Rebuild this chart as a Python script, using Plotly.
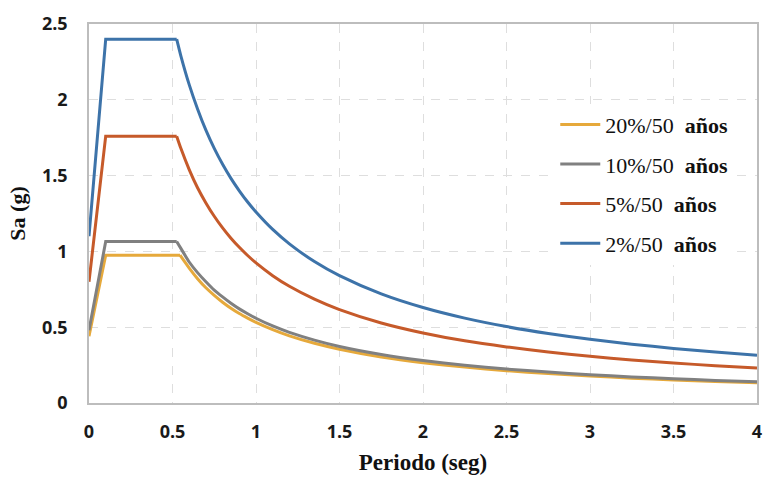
import plotly.graph_objects as go

# Rising branch and plateau: period (s) and Sa (g)
rise_t_20 = [0.0, 0.1, 0.545]
rise_t = [0.0, 0.1, 0.525]
rise_20 = [0.44, 0.975, 0.975]
rise_10 = [0.48, 1.065, 1.065]
rise_5 = [0.80, 1.76, 1.76]
rise_2 = [1.10, 2.40, 2.40]

# Descending branch: period (s) and Sa (g)
decay_t_20 = [0.545, 0.6, 0.65, 0.7, 0.75, 0.8, 0.85, 0.9, 0.95, 1.0, 1.1, 1.2,
              1.35, 1.5, 1.75, 2.0, 2.25, 2.5, 2.75, 3.0, 3.25, 3.5, 3.75, 4.0]
decay_t = [0.525, 0.55, 0.6, 0.65, 0.7, 0.75, 0.8, 0.85, 0.9, 0.95, 1.0, 1.1, 1.2,
           1.35, 1.5, 1.75, 2.0, 2.25, 2.5, 2.75, 3.0, 3.25, 3.5, 3.75, 4.0]
decay_20 = [0.975, 0.89, 0.82, 0.76, 0.71, 0.665, 0.625, 0.59, 0.56, 0.532, 0.484, 0.443,
            0.394, 0.355, 0.304, 0.266, 0.237, 0.213, 0.194, 0.178, 0.164, 0.152, 0.142, 0.133]
decay_10 = [1.065, 1.02, 0.93, 0.86, 0.80, 0.745, 0.70, 0.658, 0.621, 0.589, 0.559, 0.508, 0.466,
            0.415, 0.373, 0.32, 0.28, 0.249, 0.224, 0.204, 0.187, 0.172, 0.16, 0.149, 0.14]
decay_5 = [1.76, 1.68, 1.54, 1.42, 1.32, 1.232, 1.155, 1.087, 1.027, 0.973, 0.924, 0.84, 0.77,
           0.685, 0.616, 0.528, 0.462, 0.41, 0.37, 0.336, 0.308, 0.284, 0.264, 0.246, 0.231]
decay_2 = [2.40, 2.29, 2.10, 1.94, 1.80, 1.68, 1.575, 1.482, 1.40, 1.326, 1.26, 1.145, 1.05,
           0.933, 0.84, 0.72, 0.63, 0.56, 0.504, 0.458, 0.42, 0.388, 0.36, 0.336, 0.315]

series_names = ["20%/50  <b>años</b>", "10%/50  <b>años</b>",
                "5%/50  <b>años</b>", "2%/50  <b>años</b>"]
colors = ["#E6A93B", "#808080", "#C65A2A", "#3D73A9"]

x_ticks = [0, 0.5, 1, 1.5, 2, 2.5, 3, 3.5, 4]
x_tick_text = ["0", "0.5", "1", "1.5", "2", "2.5", "3", "3.5", "4"]
y_ticks = [0, 0.5, 1, 1.5, 2, 2.5]
y_tick_text = ["0", "0.5", "1", "1.5", "2", "2.5"]

series = [
    (rise_t_20, rise_20, decay_t_20, decay_20),
    (rise_t, rise_10, decay_t, decay_10),
    (rise_t, rise_5, decay_t, decay_5),
    (rise_t, rise_2, decay_t, decay_2),
]

fig = go.Figure()
for i, ((rt, rv, dt, dv), name, col) in enumerate(zip(series, series_names, colors)):
    group = f"g{i}"
    # straight ramp and flat plateau
    fig.add_trace(go.Scatter(
        x=rt, y=rv, mode="lines", name=name, legendgroup=group, showlegend=False,
        line=dict(color=col, width=3, shape="linear"),
    ))
    # smooth descending branch
    fig.add_trace(go.Scatter(
        x=dt, y=dv, mode="lines", name=name, legendgroup=group,
        line=dict(color=col, width=3, shape="spline", smoothing=0.6),
    ))

axis_common = dict(
    showline=True, linecolor="#BDBDBD", linewidth=1.5, mirror=True,
    showgrid=True, gridcolor="#DEDEDE", griddash="dash", gridwidth=1,
    zeroline=False, ticks="",
    tickfont=dict(family="Open Sans", size=18, color="#1a1a1a", weight="bold"),
)

fig.update_xaxes(range=[0, 4], tickvals=x_ticks, ticktext=x_tick_text,
                 ticklabelstandoff=12,
                 title=dict(text="<b>Periodo (seg)</b>", standoff=12,
                            font=dict(family="Liberation Serif", size=23, color="#111")),
                 **axis_common)
fig.update_yaxes(range=[0, 2.5], tickvals=y_ticks, ticktext=y_tick_text,
                 ticklabelstandoff=16,
                 title=dict(text="<b>Sa (g)</b>", standoff=10,
                            font=dict(family="Liberation Serif", size=22, color="#111")),
                 **axis_common)

fig.update_layout(
    width=766, height=478,
    margin=dict(l=89, r=4, t=24, b=75),
    paper_bgcolor="white", plot_bgcolor="white",
    showlegend=True,
    legend=dict(
        x=0.698, y=0.79, xanchor="left", yanchor="top",
        bgcolor="white", borderwidth=0,
        font=dict(family="Liberation Serif", size=22, color="#111"),
        traceorder="grouped", tracegroupgap=8, itemwidth=40,
    ),
)

fig.write_html("out.html")
